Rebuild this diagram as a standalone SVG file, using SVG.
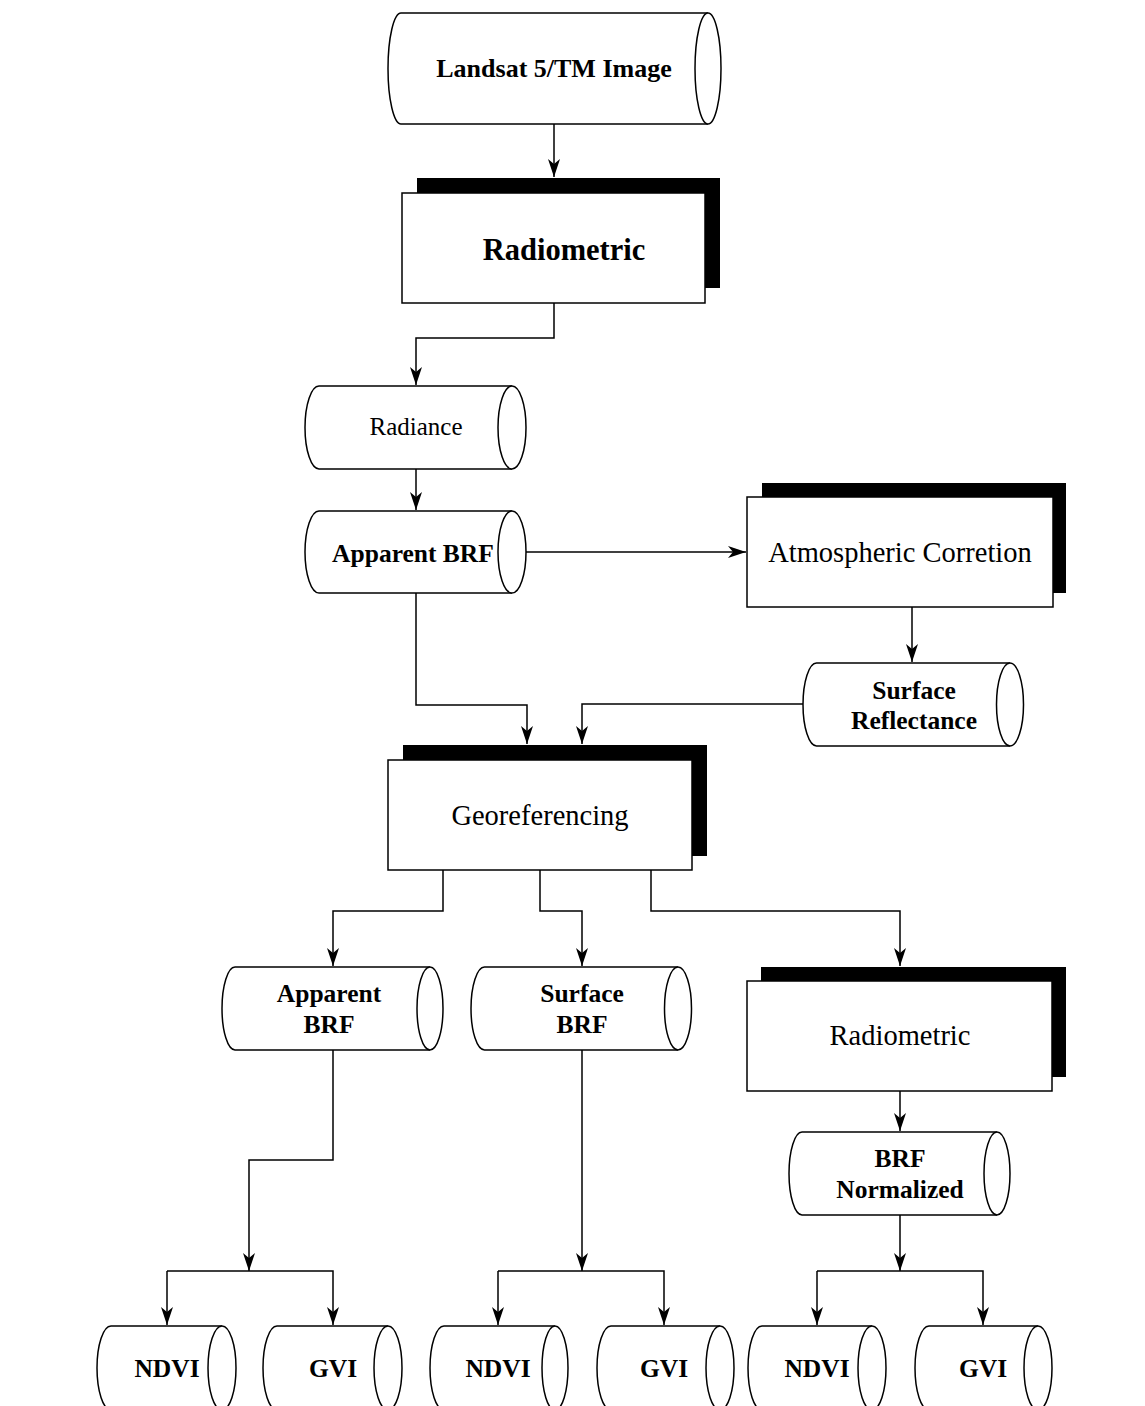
<svg xmlns="http://www.w3.org/2000/svg" width="1145" height="1406" viewBox="0 0 1145 1406">
<defs>
<style>
.cyl{fill:#fff;stroke:#000;stroke-width:1.5}
.box{fill:#fff;stroke:#000;stroke-width:1.5}
.sh{fill:#000}
.t{font-family:"Liberation Serif","Times New Roman",serif;text-anchor:middle;fill:#000}
.b{font-weight:bold}
.c{fill:none;stroke:#000;stroke-width:1.5}
</style>
<marker id="ah" viewBox="-19 -7 20 14" refX="0" refY="0" markerWidth="20" markerHeight="14" markerUnits="userSpaceOnUse" orient="auto">
<path d="M0,0 L-18,-6 L-13,0 L-18,6 Z" fill="#000"/>
</marker>
</defs>
<rect width="1145" height="1406" fill="#fff"/>
<g id="connectors">
<path class="c" d="M554,124 V177" marker-end="url(#ah)"/>
<path class="c" d="M554,303 V338 H416 V385" marker-end="url(#ah)"/>
<path class="c" d="M416,469 V510" marker-end="url(#ah)"/>
<path class="c" d="M526,552 H746" marker-end="url(#ah)"/>
<path class="c" d="M416,593 V705 H527 V744" marker-end="url(#ah)"/>
<path class="c" d="M803,704 H582 V744" marker-end="url(#ah)"/>
<path class="c" d="M912,607 V662" marker-end="url(#ah)"/>
<path class="c" d="M443,870 V911 H333 V966" marker-end="url(#ah)"/>
<path class="c" d="M540,870 V911 H582 V966" marker-end="url(#ah)"/>
<path class="c" d="M651,870 V911 H900 V966" marker-end="url(#ah)"/>
<path class="c" d="M900,1091 V1131" marker-end="url(#ah)"/>
<path class="c" d="M333,1050 V1160 H249 V1271" marker-end="url(#ah)"/>
<path class="c" d="M167,1271 H333 V1325" marker-end="url(#ah)"/>
<path class="c" d="M167,1271 V1325" marker-end="url(#ah)"/>
<path class="c" d="M582,1050 V1271" marker-end="url(#ah)"/>
<path class="c" d="M498,1271 H664 V1325" marker-end="url(#ah)"/>
<path class="c" d="M498,1271 V1325" marker-end="url(#ah)"/>
<path class="c" d="M900,1215 V1271" marker-end="url(#ah)"/>
<path class="c" d="M817,1271 H983 V1325" marker-end="url(#ah)"/>
<path class="c" d="M817,1271 V1325" marker-end="url(#ah)"/>
</g>
<g id="landsat">
<path class="cyl" d="M708,13 H401 A13,55.5 0 0 0 401,124 H708"/>
<ellipse class="cyl" cx="708" cy="68.5" rx="13" ry="55.5"/>
<text class="t b" x="554" y="77" font-size="26">Landsat 5/TM Image</text>
</g>
<g id="radiometric1">
<rect class="sh" x="417" y="178" width="303" height="110"/>
<rect class="box" x="402" y="193" width="303" height="110"/>
<text class="t b" x="564" y="260" font-size="30.5">Radiometric</text>
</g>
<g id="radiance">
<path class="cyl" d="M512,386 H319 A14,41.5 0 0 0 319,469 H512"/>
<ellipse class="cyl" cx="512" cy="427.5" rx="14" ry="41.5"/>
<text class="t" x="416" y="435" font-size="25">Radiance</text>
</g>
<g id="apparent-brf">
<path class="cyl" d="M512,511 H319 A14,41 0 0 0 319,593 H512"/>
<ellipse class="cyl" cx="512" cy="552" rx="14" ry="41"/>
<text class="t b" x="413" y="562" font-size="25.5">Apparent BRF</text>
</g>
<g id="atmospheric">
<rect class="sh" x="762" y="483" width="304" height="110"/>
<rect class="box" x="747" y="497" width="306" height="110"/>
<text class="t" x="900" y="562" font-size="28.5">Atmospheric Corretion</text>
</g>
<g id="surface-reflectance">
<path class="cyl" d="M1010,663 H816.5 A13.5,41.5 0 0 0 816.5,746 H1010"/>
<ellipse class="cyl" cx="1010" cy="704.5" rx="13.5" ry="41.5"/>
<text class="t b" x="914" y="699" font-size="25.5">Surface</text>
<text class="t b" x="914" y="729" font-size="25.5">Reflectance</text>
</g>
<g id="georeferencing">
<rect class="sh" x="403" y="745" width="304" height="111"/>
<rect class="box" x="388" y="760" width="304" height="110"/>
<text class="t" x="540" y="825" font-size="28.5">Georeferencing</text>
</g>
<g id="apparent-brf-2">
<path class="cyl" d="M430,967 H235 A13,41.5 0 0 0 235,1050 H430"/>
<ellipse class="cyl" cx="430" cy="1008.5" rx="13" ry="41.5"/>
<text class="t b" x="329" y="1002" font-size="25.5">Apparent</text>
<text class="t b" x="329" y="1033" font-size="25.5">BRF</text>
</g>
<g id="surface-brf">
<path class="cyl" d="M678,967 H484.5 A13.5,41.5 0 0 0 484.5,1050 H678"/>
<ellipse class="cyl" cx="678" cy="1008.5" rx="13.5" ry="41.5"/>
<text class="t b" x="582" y="1002" font-size="25.5">Surface</text>
<text class="t b" x="582" y="1033" font-size="25.5">BRF</text>
</g>
<g id="radiometric2">
<rect class="sh" x="761" y="967" width="305" height="110"/>
<rect class="box" x="747" y="981" width="305" height="110"/>
<text class="t" x="900" y="1045" font-size="28.5">Radiometric</text>
</g>
<g id="brf-normalized">
<path class="cyl" d="M997,1132 H802 A13,41.5 0 0 0 802,1215 H997"/>
<ellipse class="cyl" cx="997" cy="1173.5" rx="13" ry="41.5"/>
<text class="t b" x="900" y="1167" font-size="25.5">BRF</text>
<text class="t b" x="900" y="1198" font-size="25.5">Normalized</text>
</g>
<g id="ndvi1">
<path class="cyl" d="M222,1326 H111 A14,42 0 0 0 111,1410 H222"/>
<ellipse class="cyl" cx="222" cy="1368" rx="14" ry="42"/>
<text class="t b" x="167" y="1377" font-size="25.5">NDVI</text>
</g>
<g id="gvi1">
<path class="cyl" d="M388,1326 H277 A14,42 0 0 0 277,1410 H388"/>
<ellipse class="cyl" cx="388" cy="1368" rx="14" ry="42"/>
<text class="t b" x="333" y="1377" font-size="25.5">GVI</text>
</g>
<g id="ndvi2">
<path class="cyl" d="M555,1326 H444 A14,42 0 0 0 444,1410 H555"/>
<ellipse class="cyl" cx="555" cy="1368" rx="13" ry="42"/>
<text class="t b" x="498" y="1377" font-size="25.5">NDVI</text>
</g>
<g id="gvi2">
<path class="cyl" d="M720,1326 H611 A14,42 0 0 0 611,1410 H720"/>
<ellipse class="cyl" cx="720" cy="1368" rx="14" ry="42"/>
<text class="t b" x="664" y="1377" font-size="25.5">GVI</text>
</g>
<g id="ndvi3">
<path class="cyl" d="M872,1326 H762 A14,42 0 0 0 762,1410 H872"/>
<ellipse class="cyl" cx="872" cy="1368" rx="14" ry="42"/>
<text class="t b" x="817" y="1377" font-size="25.5">NDVI</text>
</g>
<g id="gvi3">
<path class="cyl" d="M1038,1326 H929 A14,42 0 0 0 929,1410 H1038"/>
<ellipse class="cyl" cx="1038" cy="1368" rx="14" ry="42"/>
<text class="t b" x="983" y="1377" font-size="25.5">GVI</text>
</g>
</svg>
